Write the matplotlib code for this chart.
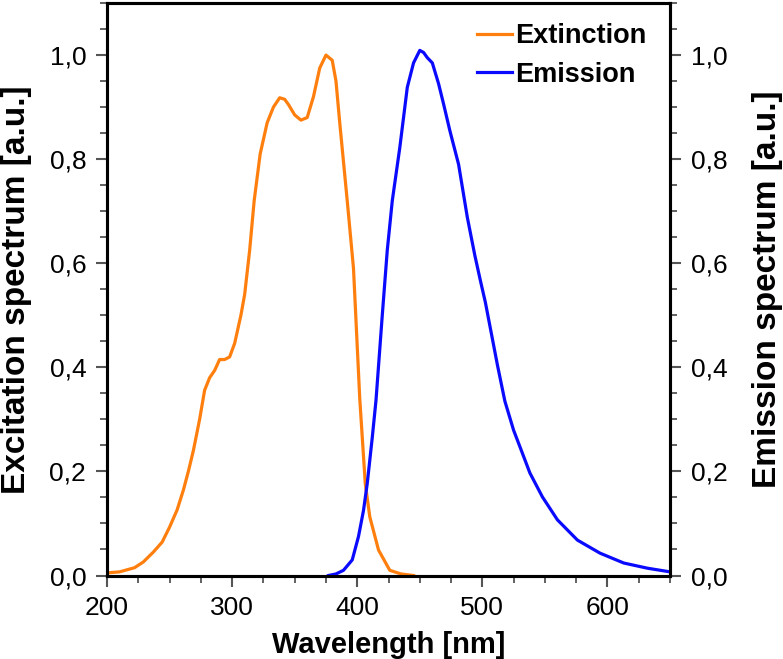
import matplotlib
matplotlib.use("Agg")
import matplotlib.pyplot as plt
from matplotlib.ticker import MultipleLocator, FuncFormatter

plt.rcParams['font.family'] = ['Liberation Sans', 'DejaVu Sans']

ext_wl = [200, 210, 222, 229, 237, 244, 250, 256, 261, 265, 269, 274, 278, 282, 286, 290, 294,
          298, 302, 307, 310, 314, 317.6, 320, 322.4, 328, 333, 338, 342, 345, 350, 355, 360,
          365, 370, 375, 380, 383, 386, 390, 392, 397, 399.5, 402, 406.4, 410, 417, 426, 435, 445]
ext_val = [0.005, 0.007, 0.015, 0.026, 0.045, 0.064, 0.093, 0.126, 0.164, 0.2, 0.24, 0.3,
           0.356, 0.38, 0.394, 0.415, 0.415, 0.42, 0.446, 0.50, 0.54, 0.625, 0.72, 0.765,
           0.81, 0.87, 0.90, 0.918, 0.915, 0.905, 0.885, 0.875, 0.88, 0.92, 0.975, 1.0, 0.99,
           0.95, 0.87, 0.77, 0.72, 0.59, 0.465, 0.34, 0.177, 0.113, 0.049, 0.01, 0.003, 0.0]

em_wl = [377, 383, 389, 396, 401, 405, 408, 412, 415, 420, 424, 428, 434, 440, 445, 450, 453,
         456, 460, 465, 469, 474, 481, 488, 494, 498.4, 502.4, 506, 512, 518, 525, 532, 538,
         548, 560, 576, 594, 613, 632, 650]
em_val = [0.0, 0.003, 0.01, 0.03, 0.075, 0.125, 0.177, 0.265, 0.337, 0.5, 0.625, 0.72, 0.822,
          0.938, 0.985, 1.009, 1.005, 0.995, 0.985, 0.945, 0.906, 0.855, 0.79, 0.688, 0.615,
          0.567, 0.525, 0.48, 0.405, 0.335, 0.279, 0.235, 0.197, 0.151, 0.107, 0.068, 0.043,
          0.024, 0.014, 0.007]

fig = plt.figure(figsize=(7.83, 6.59), dpi=100)
ax = fig.add_axes([0.1367, 0.1267, 0.7190, 0.8687])
ax2 = ax.twinx()

l1, = ax.plot(ext_wl, ext_val, color='#ff7f0e', lw=2.3, label='Extinction')
l2, = ax2.plot(em_wl, em_val, color='#0a0aff', lw=2.3, label='Emission')

fmt = FuncFormatter(lambda v, p: f"{v:.1f}".replace('.', ','))
for a in (ax, ax2):
    a.set_xlim(200, 650)
    a.set_ylim(0, 1.1)
    a.yaxis.set_major_locator(MultipleLocator(0.2))
    a.yaxis.set_minor_locator(MultipleLocator(0.05))
    a.yaxis.set_major_formatter(fmt)
    for s in a.spines.values():
        s.set_linewidth(2.2)
    a.tick_params(which='major', direction='out', length=8, width=1.5, color='#555555',
                  labelsize=19, pad=7)
    a.tick_params(which='minor', direction='out', length=5, width=1.3, color='#555555')

ax.xaxis.set_major_locator(MultipleLocator(100))
ax.xaxis.set_minor_locator(MultipleLocator(25))

ax.set_xlabel('Wavelength [nm]', fontsize=21, fontweight='bold')
ax.set_ylabel('Excitation spectrum [a.u.]', fontsize=24, fontweight='bold')
ax2.set_ylabel('Emission spectrum [a.u.]', fontsize=24, fontweight='bold', rotation=90)

ax.xaxis.set_label_coords(0.5, -0.1214)
ax.yaxis.set_label_coords(-0.1616, 0.5)
ax2.yaxis.set_label_coords(1.174, 0.5)
for lab in (ax.xaxis.label, ax.yaxis.label, ax2.yaxis.label):
    lab.set_va('center')
    lab.set_ha('center')

leg = ax2.legend(handles=[l1, l2], loc='upper left', bbox_to_anchor=(0.657, 0.965),
                 frameon=False, prop={'weight': 'bold', 'size': 19.5}, handlelength=1.3,
                 handletextpad=0.12, labelspacing=0.46, borderpad=0, borderaxespad=0)

fig.savefig('out.png', dpi=100)
